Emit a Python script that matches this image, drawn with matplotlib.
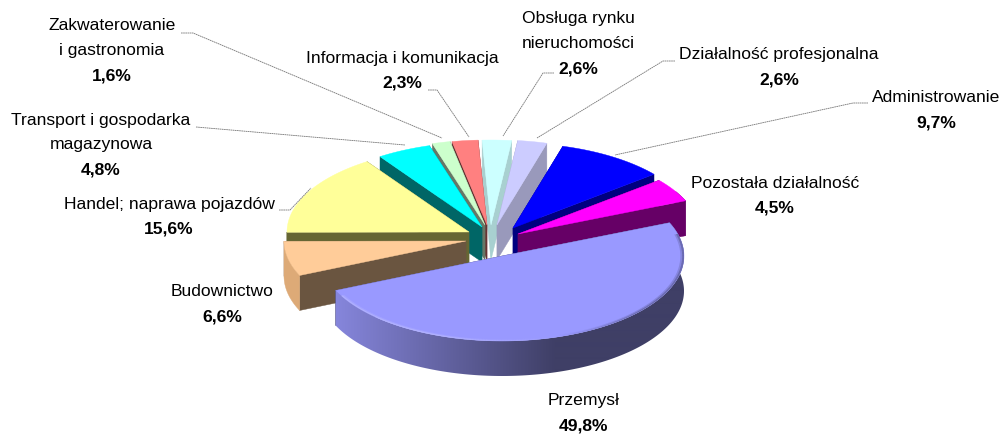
import matplotlib
matplotlib.use("Agg")
import matplotlib.pyplot as plt
from matplotlib.collections import PolyCollection
from matplotlib.colors import to_rgb
from matplotlib.patches import Polygon
import numpy as np

# clockwise from the top of the pie
categories = ["Obsługa rynku\nnieruchomości", "Działalność profesjonalna", "Administrowanie",
              "Pozostała działalność", "Przemysł", "Budownictwo", "Handel; naprawa pojazdów",
              "Transport i gospodarka\nmagazynowa", "Zakwaterowanie\ni gastronomia",
              "Informacja i komunikacja"]
shares = [2.6, 2.6, 9.7, 4.5, 49.8, 6.6, 15.6, 4.8, 1.6, 2.3]

top_colors = ["#CCFFFF", "#CCCCFF", "#0000FF", "#FF00FF", "#9999FF",
              "#FFCC99", "#FFFF99", "#00FFFF", "#CCFFCC", "#FF8080"]
side_colors = ["#A8D0D0", "#9999BB", "#000080", "#660066", "#3F3F66",
               "#6A5540", "#666633", "#006666", "#667766", "#663333"]

# pixel shift of each slice away from the pie centre
explode_x = [1, 7, 23, 28, 12, -24, -21, -8, -5, -3]
explode_y = [-11, -11, -8, -2, 20, 5, -4, -9, -11, -11]
draw_order = [0, 1, 9, 8, 7, 2, 6, 3, 5, 4]

# label centres: x, y of the first line
label_x = [578, 779, 936, 775, 584, 222, 169, 101, 112, 402]
label_y = [19, 55, 98, 183, 401, 292, 204, 120, 26, 58]

leaders = {
    0: [(554, 73), (543, 73), (503, 136)],
    1: [(675, 61), (663, 61), (537, 138)],
    2: [(868, 103), (853, 103), (615, 155)],
    6: [(279, 210), (290, 210), (311, 188)],
    7: [(196, 127), (405, 145)],
    8: [(181, 33), (193, 33), (442, 138)],
    9: [(428, 90), (437, 90), (469, 137)],
}

cx, cy = 490, 236
rx, ry = 182, 85
depth = 35
line_h = 25

plt.rcParams['font.family'] = ['Liberation Sans', 'DejaVu Sans']


def arc(x0, y0, a, b, r=1.0):
    t = np.radians(np.linspace(a, b, max(int(abs(b - a)) * 2 + 2, 3)))
    return np.column_stack([x0 + r * rx * np.sin(t), y0 - r * ry * np.cos(t)])


def mix(c1, c2, f):
    c1, c2 = np.array(to_rgb(c1)), np.array(to_rgb(c2))
    return c1 + (c2 - c1) * f


def gradient_fill(ax, outline, stops):
    # fills the outline with a left to right colour ramp
    xs = np.arange(300, 720)
    ramp = np.zeros((1, len(xs), 3))
    for k, x in enumerate(xs):
        ramp[0, k] = [np.interp(x, [s[0] for s in stops], [to_rgb(s[1])[c] for s in stops]) for c in range(3)]
    im = ax.imshow(ramp, extent=(300, 720, 434, 0), aspect='auto', zorder=2, interpolation='bilinear')
    clip = Polygon(outline, closed=True, transform=ax.transData)
    im.set_clip_path(clip)


def draw_slice(ax, i, a, b):
    x0 = cx + explode_x[i]
    y0 = cy + explode_y[i]
    pts = arc(x0, y0, a, b)
    down = np.array([0, depth])

    # cut faces
    for p in (pts[0], pts[-1]):
        quad = [(x0, y0), p, p + down, (x0, y0 + depth)]
        ax.add_patch(Polygon(quad, closed=True, fc=side_colors[i], ec=side_colors[i], lw=0.3, zorder=2))

    # outer wall, only the front half can be seen
    a2, b2 = max(a, 60), min(b, 270)
    if b2 > a2:
        wall = arc(x0, y0, a2, b2)
        outline = np.vstack([wall, wall[::-1] + down])
        if i == 4:
            gradient_fill(ax, outline, [(335, "#8686DC"), (555, side_colors[4])])
        else:
            color = "#DDAA77" if i == 5 else side_colors[i]
            ax.add_patch(Polygon(outline, closed=True, fc=color, ec=color, lw=0.3, zorder=2))

    top = np.vstack([[x0, y0], pts])
    ax.add_patch(Polygon(top, closed=True, fc=top_colors[i], ec=top_colors[i], lw=0.3, zorder=2))

    # soft rim on the big slice
    if i == 4:
        for r, weight in ((0.99, 1.0), (0.98, 0.5)):
            rim = arc(x0, y0, 75, b - 4)
            inner = arc(x0, y0, 75, b - 4, r=r)
            quads = [[rim[k], rim[k + 1], inner[k + 1], inner[k]] for k in range(len(rim) - 1)]
            colors = []
            for q in quads:
                x = q[0][0]
                if x < 560:
                    c = mix("#BDBDFF", "#9999FF", np.clip((x - 440) / 120, 0, 1))
                else:
                    c = mix("#9999FF", "#55558C", np.clip((x - 560) / 80, 0, 1))
                colors.append(tuple(np.append(c, 0.6 * weight)))
            ax.add_collection(PolyCollection(quads, facecolors=colors, edgecolors='none', zorder=2))


fig = plt.figure(figsize=(10.04, 4.34), dpi=100)
ax = fig.add_axes([0, 0, 1, 1])

total = sum(shares)
edges = np.cumsum([0] + shares) / total * 360 - 2.8
for i in draw_order:
    draw_slice(ax, i, edges[i], edges[i + 1])

ax.set_xlim(0, 1004)
ax.set_ylim(434, 0)
ax.axis('off')

for i, pts in leaders.items():
    xs, ys = zip(*pts)
    ax.plot(xs, ys, color="#777777", lw=0.6, ls=(0, (2, 0.6)), zorder=3)

for i, name in enumerate(categories):
    y = label_y[i]
    for line in name.split("\n"):
        ax.text(label_x[i], y, line, ha='center', va='center', fontsize=12.6, color="#000000", zorder=4)
        y += line_h
    pct = f"{shares[i]:.1f}".replace(".", ",") + "%"
    ax.text(label_x[i], y, pct, ha='center', va='center', fontsize=12.6, fontweight='bold', color="#000000", zorder=4)

fig.savefig("out.png", dpi=100)
